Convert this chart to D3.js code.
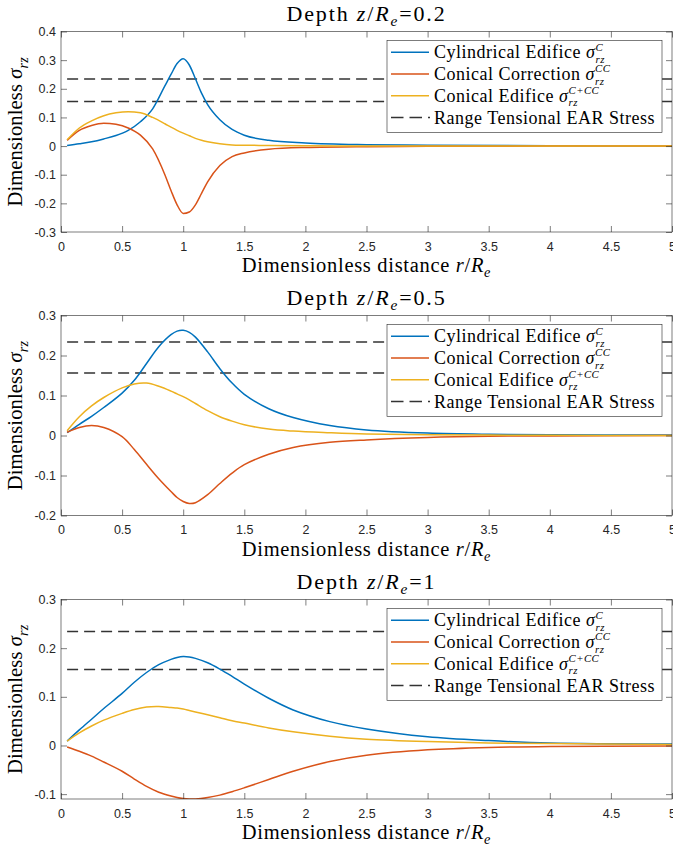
<!DOCTYPE html>
<html>
<head>
<meta charset="utf-8">
<script src="https://cdn.jsdelivr.net/npm/d3@7"></script>
<style>
  html, body { margin: 0; padding: 0; background: #fff; }
  svg { display: block; }
</style>
</head>
<body>
<svg id="chart" width="673" height="852"></svg>
<script>
// ---------------- DATA ----------------
const depths = ["0.2", "0.5", "1"];
const xTicks = [0, 0.5, 1, 1.5, 2, 2.5, 3, 3.5, 4, 4.5, 5];
const yTicks1 = [-0.3, -0.2, -0.1, 0, 0.1, 0.2, 0.3, 0.4];
const yTicks2 = [-0.2, -0.1, 0, 0.1, 0.2, 0.3];
const yTicks3 = [-0.1, 0, 0.1, 0.2, 0.3];
const yDomain1 = [-0.3, 0.4];
const yDomain2 = [-0.2, 0.3];
const yDomain3 = [-0.11, 0.3];
const earRange = [0.234, 0.156];
const earR = [0.05, 5];

const r1 = [0.05,0.15,0.25,0.35,0.45,0.55,0.65,0.75,0.85,0.9,0.95,1.0,1.05,1.1,1.15,1.2,1.3,1.4,1.5,1.7,2.0,2.5,3.0,4.0,5.0];
const cyl1 = [0.002,0.008,0.015,0.025,0.037,0.055,0.085,0.13,0.21,0.25,0.288,0.305,0.283,0.235,0.185,0.145,0.092,0.058,0.038,0.02,0.011,0.005,0.003,0.001,0.0005];
const cor1 = [0.02,0.055,0.072,0.08,0.076,0.063,0.038,-0.01,-0.1,-0.155,-0.205,-0.235,-0.23,-0.205,-0.165,-0.125,-0.068,-0.037,-0.024,-0.011,-0.005,-0.002,-0.001,0,0];
const con1 = [0.022,0.063,0.088,0.106,0.116,0.12,0.116,0.1,0.078,0.066,0.055,0.045,0.036,0.027,0.02,0.015,0.008,0.004,0.003,0.002,0.001,0.0005,0,0,0];

const r2 = [0.05,0.15,0.25,0.35,0.5,0.6,0.7,0.8,0.9,0.95,1.0,1.05,1.1,1.2,1.3,1.4,1.5,1.7,1.9,2.2,2.5,3.0,3.5,4.0,5.0];
const cyl2 = [0.007,0.028,0.048,0.07,0.106,0.138,0.18,0.222,0.252,0.261,0.263,0.258,0.246,0.209,0.167,0.131,0.103,0.067,0.045,0.025,0.014,0.006,0.003,0.002,0.001];
const cor2 = [0.008,0.02,0.025,0.02,-0.003,-0.035,-0.072,-0.108,-0.14,-0.155,-0.165,-0.17,-0.168,-0.148,-0.12,-0.094,-0.073,-0.047,-0.03,-0.017,-0.011,-0.005,-0.002,-0.001,0];
const con2 = [0.012,0.047,0.074,0.095,0.119,0.129,0.131,0.123,0.111,0.104,0.097,0.089,0.08,0.062,0.047,0.036,0.027,0.016,0.011,0.007,0.004,0.002,0.001,0.0005,0];

const r3 = [0.05,0.15,0.25,0.35,0.5,0.6,0.7,0.8,0.9,0.95,1.0,1.05,1.1,1.2,1.3,1.4,1.5,1.7,1.9,2.2,2.5,3.0,3.5,4.0,5.0];
const cyl3 = [0.009,0.032,0.054,0.076,0.107,0.13,0.15,0.166,0.177,0.181,0.183,0.182,0.179,0.17,0.157,0.142,0.126,0.097,0.073,0.049,0.034,0.018,0.01,0.005,0.003];
const cor3 = [-0.003,-0.012,-0.022,-0.034,-0.053,-0.069,-0.084,-0.096,-0.104,-0.107,-0.109,-0.11,-0.11,-0.107,-0.102,-0.095,-0.087,-0.07,-0.053,-0.033,-0.02,-0.009,-0.004,-0.002,-0.001];
const con3 = [0.009,0.026,0.04,0.052,0.066,0.074,0.079,0.08,0.078,0.077,0.075,0.072,0.069,0.063,0.057,0.051,0.046,0.036,0.028,0.019,0.013,0.008,0.005,0.004,0.002];

const legendLabels = ["Cylindrical Edifice", "Conical Correction", "Conical Edifice", "Range Tensional EAR Stress"];
const legendSup = ["C", "CC", "C+CC", null];

// ---------------- STYLE / LAYOUT ----------------
const colors = ["#0072BD", "#D95319", "#EDB120"];
const axisColor = "#262626";
const serif = "'Liberation Serif', 'DejaVu Serif', serif";
const sans = "'Liberation Sans', Arial, sans-serif";
const xLeft = 61, xRight = 672;
const layout = [
  {top: 31.5, bottom: 232},
  {top: 315.5, bottom: 515.5},
  {top: 599.5, bottom: 799}
];
const panels = [
  {r: r1, series: [cyl1, cor1, con1], yDomain: yDomain1, yTicks: yTicks1, curve: d3.curveMonotoneX},
  {r: r2, series: [cyl2, cor2, con2], yDomain: yDomain2, yTicks: yTicks2, curve: d3.curveCatmullRom.alpha(0.5)},
  {r: r3, series: [cyl3, cor3, con3], yDomain: yDomain3, yTicks: yTicks3, curve: d3.curveCatmullRom.alpha(0.5)}
];

const svg = d3.select("#chart");

// rich text helper: parts = [{t, it, shift (em, +down), size (factor), back}]
function richText(parent, parts, size, family, spacing) {
  const text = parent.append("text")
    .attr("font-family", family)
    .attr("font-size", size)
    .attr("letter-spacing", spacing || 0)
    .attr("fill", "#000");
  let cur = 0, prevW = 0;
  parts.forEach(p => {
    const s = (p.size || 1) * size;
    const target = (p.shift || 0) * size;
    const ts = text.append("tspan")
      .text(p.t)
      .attr("font-size", s)
      .attr("font-style", p.it ? "italic" : "normal")
      .attr("dy", target - cur);
    if (p.back) ts.attr("dx", -prevW);
    cur = target;
    prevW = ts.node().getComputedTextLength();
  });
  return text;
}
// letter-spacing so that the rich text reaches the target width at the given size
function fitSpacing(parts, size, targetW, family) {
  const tmp = svg.append("g").attr("opacity", 0);
  const t = richText(tmp, parts, size, family, 0);
  const w = t.node().getBBox().width;
  tmp.remove();
  const n = parts.filter(p => !p.back).reduce((a, p) => a + p.t.length, 0);
  return Math.max(0, (targetW - w) / n);
}

const fmt = d => (d === 0 ? "0" : String(+d.toFixed(2)));

const titleParts = dep => [
  {t: "Depth "}, {t: "z", it: true}, {t: "/"}, {t: "R", it: true},
  {t: "e", it: true, shift: 0.25, size: 0.7}, {t: "=" + dep, shift: 0}
];
const xlabParts = [
  {t: "Dimensionless distance "}, {t: "r", it: true}, {t: "/"}, {t: "R", it: true},
  {t: "e", it: true, shift: 0.25, size: 0.7}
];
const ylabParts = [
  {t: "Dimensionless "}, {t: "σ", it: true},
  {t: "rz", it: true, shift: 0.3, size: 0.7}
];
const titleSize = 22, xlabSize = 20.5, ylabSize = 20.5, legSize = 18;
const titleSp = fitSpacing(titleParts("0.2"), titleSize, 160, serif);
const xlabSp = fitSpacing(xlabParts, xlabSize, 250, serif);
const ylabSp = fitSpacing(ylabParts, ylabSize, 150, serif);
const legSp = fitSpacing([{t: legendLabels[3]}], legSize, 221, serif);

panels.forEach((P, i) => {
  const L = layout[i];
  const g = svg.append("g");
  const x = d3.scaleLinear().domain([0, 5]).range([xLeft, xRight]);
  const y = d3.scaleLinear().domain(P.yDomain).range([L.bottom, L.top]);

  const clipId = "clip" + i;
  svg.append("clipPath").attr("id", clipId)
    .append("rect").attr("x", xLeft).attr("y", L.top)
    .attr("width", xRight - xLeft).attr("height", L.bottom - L.top);

  // dashed EAR range lines
  const plot = g.append("g").attr("clip-path", `url(#${clipId})`);
  earRange.forEach(v => {
    plot.append("path")
      .attr("d", d3.line()([[x(earR[0]), y(v)], [x(earR[1]), y(v)]]))
      .attr("stroke", "#333").attr("stroke-width", 1.5)
      .attr("stroke-dasharray", "11,6").attr("fill", "none");
  });

  // curves
  const line = d3.line().x((d, k) => x(P.r[k])).y(d => y(d)).curve(P.curve);
  P.series.forEach((s, k) => {
    plot.append("path").attr("d", line(s))
      .attr("fill", "none").attr("stroke", colors[k]).attr("stroke-width", 1.5);
  });

  // axes
  const styleAxis = sel => {
    sel.select(".domain").remove();
    sel.selectAll(".tick line").attr("stroke", axisColor).attr("stroke-width", 0.6);
    sel.selectAll(".tick text").attr("fill", axisColor)
      .attr("font-family", sans).attr("font-size", 12.5);
  };
  g.append("g").attr("transform", `translate(0,${L.bottom})`)
    .call(d3.axisBottom(x).tickValues(xTicks).tickFormat(fmt).tickSizeInner(-6).tickSizeOuter(0).tickPadding(10))
    .call(styleAxis);
  g.append("g").attr("transform", `translate(0,${L.top})`)
    .call(d3.axisTop(x).tickValues(xTicks).tickFormat("").tickSizeInner(-6).tickSizeOuter(0))
    .call(styleAxis);
  g.append("g").attr("transform", `translate(${xLeft},0)`)
    .call(d3.axisLeft(y).tickValues(P.yTicks).tickFormat(fmt).tickSizeInner(-6).tickSizeOuter(0).tickPadding(5))
    .call(styleAxis);
  g.append("g").attr("transform", `translate(${xRight},0)`)
    .call(d3.axisRight(y).tickValues(P.yTicks).tickFormat("").tickSizeInner(-6).tickSizeOuter(0))
    .call(styleAxis);

  g.append("rect").attr("x", xLeft).attr("y", L.top)
    .attr("width", xRight - xLeft).attr("height", L.bottom - L.top)
    .attr("fill", "none").attr("stroke", axisColor).attr("stroke-width", 0.6);

  // title
  const cx = (xLeft + xRight) / 2;
  richText(g, titleParts(depths[i]), titleSize, serif, titleSp)
    .attr("x", cx).attr("y", L.top - 11).attr("text-anchor", "middle");

  // x label
  richText(g, xlabParts, xlabSize, serif, xlabSp)
    .attr("x", cx).attr("y", L.bottom + 40).attr("text-anchor", "middle");

  // y label
  const cy = (L.top + L.bottom) / 2;
  richText(g, ylabParts, ylabSize, serif, ylabSp).attr("text-anchor", "middle")
    .attr("transform", `translate(22,${cy}) rotate(-90)`);

  // legend
  const lx = 387, ly = L.top + 9, lw = 275, lh = 92;
  const leg = g.append("g");
  leg.append("rect").attr("x", lx).attr("y", ly).attr("width", lw).attr("height", lh)
    .attr("fill", "#fff").attr("stroke", axisColor).attr("stroke-width", 0.6);
  legendLabels.forEach((lab, k) => {
    const ry = ly + 11.7 + k * 21.8;
    const ln = leg.append("line").attr("x1", lx + 4).attr("x2", lx + 42)
      .attr("y1", ry).attr("y2", ry).attr("stroke-width", 1.5);
    if (k < 3) ln.attr("stroke", colors[k]);
    else ln.attr("stroke", "#333").attr("stroke-dasharray", "12.5,6").attr("x2", lx + 43);
    const parts = [{t: lab}];
    if (legendSup[k]) {
      parts[0].t = lab + " ";
      parts.push({t: "σ", it: true});
      parts.push({t: legendSup[k], it: true, shift: -0.42, size: 0.6});
      parts.push({t: "rz", it: true, shift: 0.26, size: 0.6, back: true});
    }
    richText(leg, parts, legSize, serif, legSp).attr("x", lx + 47).attr("y", ry + 6);
  });
});
</script>
</body>
</html>
